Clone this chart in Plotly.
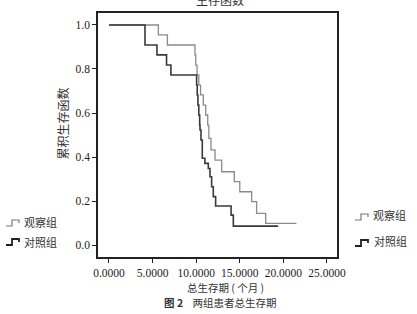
import plotly.graph_objects as go

# Kaplan-Meier step data
obs_time = [0, 5.66, 6.7, 9.86, 9.95, 10.1, 10.3, 10.5, 10.82, 11.09, 11.32, 11.45, 11.7,
            12.16, 12.92, 14.37, 15.0, 16.36, 16.93, 17.97, 21.5]
obs_surv = [1.0, 0.955, 0.909, 0.864, 0.818, 0.773, 0.727, 0.682, 0.636, 0.591, 0.545, 0.485, 0.432,
            0.386, 0.333, 0.288, 0.242, 0.197, 0.144, 0.098, 0.098]

ctl_time = [0, 4.13, 5.5, 6.6, 7.1, 10.05, 10.12, 10.2, 10.3, 10.4, 10.44, 10.55, 10.7, 11.0,
            11.39, 11.58, 11.77, 11.96, 12.23, 14.0, 14.26, 19.4]
ctl_surv = [1.0, 0.909, 0.864, 0.818, 0.773, 0.727, 0.682, 0.636, 0.591, 0.545, 0.523, 0.477, 0.394, 0.371,
            0.348, 0.31, 0.265, 0.22, 0.177, 0.136, 0.086, 0.086]

x_ticks = [0, 5, 10, 15, 20, 25]
y_ticks = [0.0, 0.2, 0.4, 0.6, 0.8, 1.0]
group_names = ["观察组", "对照组"]

W, H = 417, 314
L, R, T, B = 98, 337, 13, 257
pw, ph = R - L, B - T

def px(x):
    return (x - L) / pw

def py(y):
    return (B - y) / ph

fig = go.Figure()
fig.add_trace(go.Scatter(x=obs_time, y=obs_surv, mode="lines", line_shape="hv",
                         line=dict(color="#8a8a8a", width=1.3), name=group_names[0],
                         showlegend=False))
fig.add_trace(go.Scatter(x=ctl_time, y=ctl_surv, mode="lines", line_shape="hv",
                         line=dict(color="#3a3a3a", width=1.6), name=group_names[1],
                         showlegend=False))

serif = "Liberation Serif"
cjk = "Noto Sans CJK SC"

fig.update_xaxes(range=[-1.261, 26.15], tickvals=x_ticks, tickformat=".4f",
                 ticks="outside", ticklen=4, tickwidth=1, tickcolor="#222",
                 showline=True, mirror=True, linecolor="#222", linewidth=1.5,
                 showgrid=False, zeroline=False,
                 tickfont=dict(family=serif, size=11.5, color="#222"))
fig.update_yaxes(range=[-0.0545, 1.0545], tickvals=y_ticks, tickformat=".1f",
                 ticks="outside", ticklen=4, tickwidth=1, tickcolor="#222",
                 showline=True, mirror=True, linecolor="#222", linewidth=1.5,
                 showgrid=False, zeroline=False,
                 tickfont=dict(family=serif, size=11.5, color="#222"))

annotations = [
    dict(text="生存函数", x=px(220), y=py(-1), xref="paper", yref="paper",
         xanchor="center", yanchor="middle", showarrow=False,
         font=dict(family=cjk, size=12, color="#333")),
    dict(text="累积生存函数", x=px(62), y=py(123.5), xref="paper", yref="paper",
         xanchor="center", yanchor="middle", textangle=-90, showarrow=False,
         font=dict(family=cjk, size=12, color="#333")),
    dict(text="总生存期 ( 个月 )", x=px(225), y=py(287), xref="paper", yref="paper",
         xanchor="center", yanchor="middle", showarrow=False,
         font=dict(family=cjk, size=10.5, color="#333")),
    dict(text="<b>图 2</b>    两组患者总生存期", x=px(220), y=py(303), xref="paper", yref="paper",
         xanchor="center", yanchor="middle", showarrow=False,
         font=dict(family=cjk, size=10.5, color="#333")),
]

legend_items = [
    # (text_x, text_y, sym_x0, sym_y_low, sym_y_high, color, width, name)
    (22, 222, 6, 226, 220, "#777", 1.2, group_names[0]),
    (22, 242, 6, 245, 239, "#222", 1.8, group_names[1]),
    (371, 215, 355, 220, 214, "#777", 1.2, group_names[0]),
    (372, 241, 355, 246, 240, "#222", 1.8, group_names[1]),
]
shapes = []
for tx, ty, sx, ylo, yhi, col, wd, name in legend_items:
    annotations.append(dict(text=name, x=px(tx), y=py(ty), xref="paper", yref="paper",
                            xanchor="left", yanchor="middle", showarrow=False,
                            font=dict(family=cjk, size=11, color="#333")))
    path = (f"M {px(sx)} {py(ylo)} L {px(sx+6)} {py(ylo)} L {px(sx+6)} {py(yhi)} "
            f"L {px(sx+13)} {py(yhi)} L {px(sx+13)} {py(yhi+3)}")
    shapes.append(dict(type="path", path=path, xref="paper", yref="paper",
                       line=dict(color=col, width=wd)))

fig.update_layout(width=W, height=H,
                  margin=dict(l=L, r=W - R, t=T, b=H - B, pad=0),
                  paper_bgcolor="white", plot_bgcolor="white",
                  annotations=annotations, shapes=shapes, showlegend=False)

fig.write_html("out.html")
